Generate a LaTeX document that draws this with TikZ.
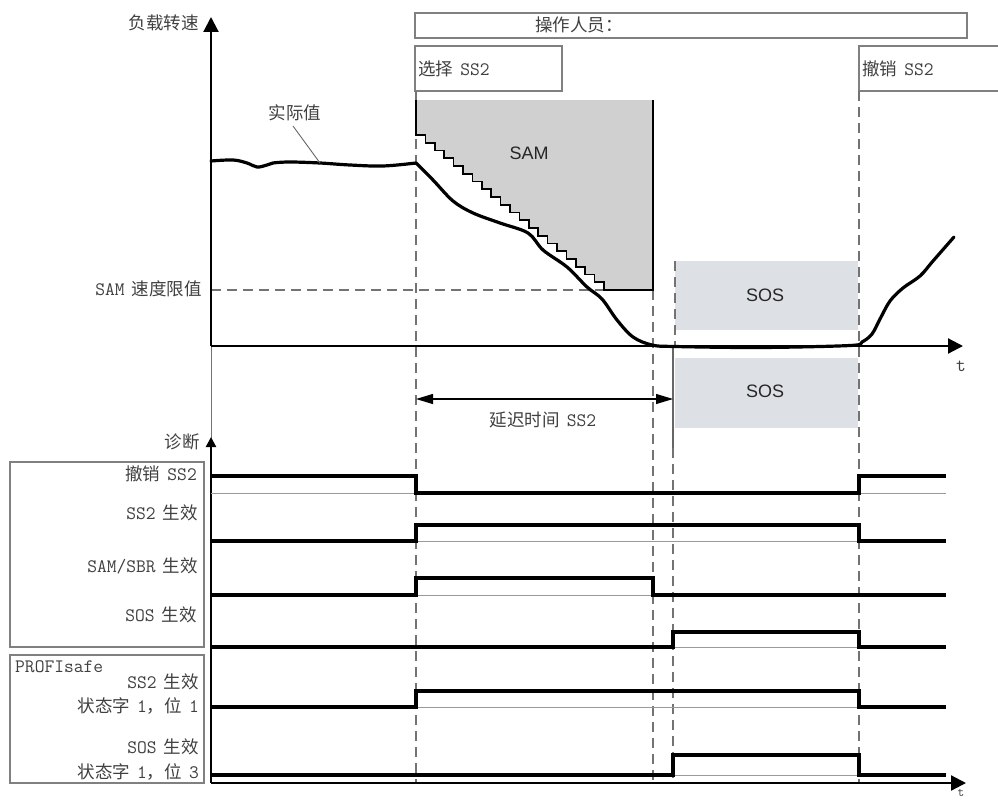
\documentclass[tikz,border=0pt]{standalone}
\usepackage{fontspec}
\setmainfont{Liberation Sans}
\newfontfamily\cjk[WordSpace=1.8]{Noto Sans CJK SC}
\newcommand\latn[1]{{\ttfamily\fontsize{19}{21}\selectfont #1}}
\usetikzlibrary{arrows.meta}
\definecolor{samfill}{RGB}{208,208,208}
\definecolor{sosfill}{RGB}{221,225,229}
\begin{document}
\begin{tikzpicture}[x=1pt,y=-1pt,
  txt/.style={font=\cjk\fontsize{17.5}{20}\selectfont, text=black!75, inner sep=0pt},
  sans/.style={font=\fontsize{18}{20}\selectfont, text=black!85, inner sep=0pt},
  frame/.style={draw=black!50, line width=1.4pt},
  dsh/.style={draw=black!55, line width=1.2pt, dash pattern=on 10pt off 6pt},
  sig/.style={draw=black, line width=3.2pt, line join=miter},
  base/.style={draw=black!40, line width=1pt},
  curve/.style={draw=black, line width=3.2pt, line join=round, line cap=round},
  axis/.style={draw=black, line width=2.2pt},
  tip/.style={-{Triangle[width=15pt,length=15pt]}},
  smalltip/.style={-{Triangle[width=10pt,length=10pt]}},
]
\useasboundingbox (0,0) rectangle (998,800);

% ---------- operator boxes ----------
\draw[frame] (415,13) rectangle (967,38);
\node[txt] (op) at (579,25) {操作人员：};
\draw[frame] (415,46) rectangle (562,91);
\node[txt, anchor=west] (sel) at (418,69) {选择 \latn{SS2}};
\draw[frame] (859,46) rectangle (1010,91);
\node[txt, anchor=west] (desel) at (862,69) {撤销 \latn{SS2}};

% ---------- SAM area ----------
\fill[samfill] (416,100) -- (416,135) \foreach \i in {1,...,20}{ -- ++(9.4,0) -- ++(0,7.75)} -- (653,290) -- (653,100) -- cycle;
\node[sans] (sam) at (529,153) {SAM};

% ---------- SOS areas ----------
\fill[sosfill] (675,261) rectangle (858,330);
\fill[sosfill] (675,358) rectangle (858,428);
\node[sans] (sos1) at (765,295) {SOS};
\node[sans] (sos2) at (765,391) {SOS};

% ---------- dashed guides ----------
\draw[dsh] (416,91) -- (416,783);
\draw[dsh] (653,290) -- (653,783);
\draw[dsh] (675,261) -- (675,346);
\draw[dsh] (673,448) -- (673,783);
\draw[dsh] (859,91) -- (859,783);
\draw[dsh] (211,290) -- (604,290);
\draw[draw=black!60, line width=1.2pt] (673,346) -- (673,448);

% SAM outline
\draw[line width=1.6pt, line join=miter] (416,100) -- (416,135) \foreach \i in {1,...,20}{ -- ++(9.4,0) -- ++(0,7.75)} -- (653,290) -- (653,100);

% ---------- axes ----------
\coordinate (o1) at (211,346);
\coordinate (ytop) at (211,17);
\coordinate (xend) at (963,346);
\coordinate (o2) at (211,783);
\coordinate (y2top) at (211,437);
\coordinate (x2end) at (966,783);
\draw[base, draw=black!55] (211,346) -- (211,445);
\draw[axis, tip] (o1) -- (ytop);
\draw[axis, tip] (o1) -- (xend);
\draw[axis, smalltip] (o2) -- (y2top);
\draw[axis, tip] (o2) -- (x2end);
\node[txt, anchor=east] (ylab) at (199,23) {负载转速};
\node[txt, anchor=east] (y2lab) at (200,442) {诊断};
\node[inner sep=0pt, text=black!75] (t1) at (961,366) {\latn{t}};
\node[inner sep=0pt, text=black!75, font=\ttfamily\fontsize{13}{14}\selectfont] (t2) at (961,793) {t};

% ---------- actual value curve ----------
\draw[curve] plot[smooth, tension=0.6] coordinates {(211,161) (233,160) (247,163) (257,167) (267,165) (273,163) (290,162) (320,163) (350,165) (383,166) (416,163)}
  -- plot[smooth, tension=0.55] coordinates {(416,163) (433,180) (453,201) (473,213) (500,223) (528,233) (543,250) (567,267) (587,287) (602,299) (617,320) (633,337) (652,345) (675,346.5) (760,347.5) (850,345.5) (862,342) (872,334) (880,319) (890,301) (903,288) (920,276) (933,261) (954,237)};
\node[txt] (act) at (295,113) {实际值};
\coordinate (actpt) at (320,163);
\draw[draw=black!60, line width=0.9pt] (293,126) -- (actpt);

\node[txt, anchor=east] (samlim) at (202,289) {\latn{SAM} 速度限值};

% ---------- delay arrow ----------
\coordinate (dl) at (416,399);
\coordinate (dr) at (673,399);
\draw[line width=1.1pt, {Triangle[width=10pt,length=17pt]}-{Triangle[width=10pt,length=17pt]}] (dl) -- (dr);
\node[txt] (delay) at (543,420) {延迟时间 \latn{SS2}};

% ---------- left label boxes ----------
\draw[frame] (10,462) rectangle (204,647);
\draw[frame] (10,655) rectangle (204,783);
\node[txt, anchor=east] (l1) at (197,474) {撤销 \latn{SS2}};
\node[txt, anchor=east] (l2) at (198,513) {\latn{SS2} 生效};
\node[txt, anchor=east] (l3) at (198,566) {\latn{SAM/SBR} 生效};
\node[txt, anchor=east] (l4) at (197,615) {\latn{SOS} 生效};
\node[txt, anchor=west] (pf) at (15,667) {\latn{PROFIsafe}};
\node[txt, anchor=east] (l5) at (199,682) {\latn{SS2} 生效};
\node[txt, anchor=east] (l5b) at (199,706) {状态字 \latn{1}，位 \latn{1}};
\node[txt, anchor=east] (l6) at (199,747) {\latn{SOS} 生效};
\node[txt, anchor=east] (l6b) at (199,772) {状态字 \latn{1}，位 \latn{3}};

% ---------- signals ----------
\foreach \lo in {493,541,595,647,707,775}{\draw[base] (211,\lo) -- (946,\lo);}
\draw[sig] (211,476) -- (416,476) -- (416,493) -- (859,493) -- (859,476) -- (946,476);
\draw[sig] (211,541) -- (416,541) -- (416,525) -- (859,525) -- (859,541) -- (946,541);
\draw[sig] (211,595) -- (416,595) -- (416,578) -- (653,578) -- (653,595) -- (946,595);
\draw[sig] (211,647) -- (673,647) -- (673,632) -- (859,632) -- (859,647) -- (946,647);
\draw[sig] (211,707) -- (416,707) -- (416,691) -- (859,691) -- (859,707) -- (946,707);
\draw[sig] (211,775) -- (673,775) -- (673,755) -- (859,755) -- (859,775) -- (946,775);
\end{tikzpicture}
\end{document}
